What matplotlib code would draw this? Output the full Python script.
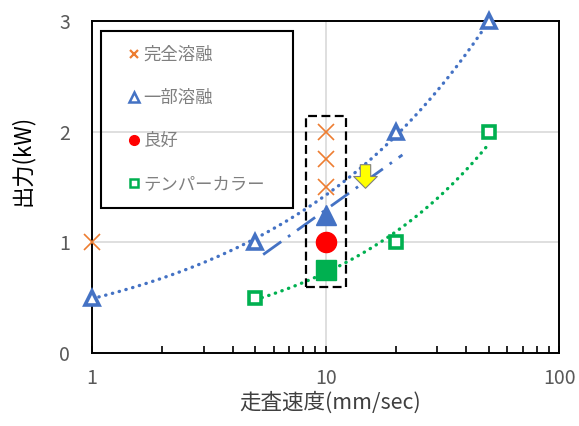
import numpy as np
import matplotlib
matplotlib.use("Agg")
import matplotlib.pyplot as plt
from matplotlib.lines import Line2D
from matplotlib.patches import Rectangle
from matplotlib.path import Path
from matplotlib.ticker import FixedLocator, FuncFormatter, NullFormatter, LogLocator

plt.rcParams['font.family'] = ['Noto Sans CJK JP', 'DejaVu Sans']

# 完全溶融
full_x = [1, 10, 10, 10]
full_y = [1.0, 1.5, 1.75, 2.0]
# 一部溶融
part_x = [1, 5, 20, 50]
part_y = [0.5, 1.0, 2.0, 3.0]
# テンパーカラー
temper_x = [5, 20, 50]
temper_y = [0.5, 1.0, 2.0]
# 10mm/sec の条件
cond_x = 10
cond_part = 1.25
cond_good = 1.0
cond_temper = 0.75
# 境界線 (一点鎖線)
bound_x = [5.4, 21.3]
bound_y = [0.89, 1.79]
# 矢印の位置
arrow_x = 14.8
arrow_y = 1.6

C_ORANGE = '#ED7D31'
C_BLUE = '#4472C4'
C_RED = '#FF0000'
C_GREEN = '#00B050'


def power_fit(xs, ys, x0, x1):
    b, a = np.polyfit(np.log(xs), np.log(ys), 1)
    xx = np.logspace(np.log10(x0), np.log10(x1), 200)
    return xx, np.exp(a) * xx ** b


fig = plt.figure(figsize=(5.79, 4.26), dpi=100)
ax = fig.add_axes([0.159, 0.171, 0.807, 0.780])
ax.set_xscale('log')
ax.set_xlim(1, 100)
ax.set_ylim(0, 3)

# 近似曲線
dot = (0, (0.1, 2.0))
xx, yy = power_fit(part_x, part_y, 1, 50)
ax.plot(xx, yy, color=C_BLUE, lw=2.4, linestyle=dot, dash_capstyle='round', zorder=2)
xx, yy = power_fit(temper_x, temper_y, 5, 50)
ax.plot(xx, yy, color=C_GREEN, lw=2.4, linestyle=dot, dash_capstyle='round', zorder=2)
ax.plot(bound_x, bound_y, color=C_BLUE, lw=2.0, linestyle=(0, (8, 3, 1, 3)), zorder=2)

# データ点
ax.plot(full_x, full_y, 'x', color=C_ORANGE, ms=12, mew=1.2, clip_on=False, zorder=4)
ax.plot(part_x, part_y, '^', color=C_BLUE, mfc='white', ms=10, mew=2.6, clip_on=False, zorder=4)
ax.plot(temper_x, temper_y, 's', color=C_GREEN, mfc='white', ms=9, mew=2.6, clip_on=False, zorder=4)
ax.plot(cond_x, cond_part, '^', color=C_BLUE, ms=15, zorder=4)
ax.plot(cond_x, cond_good, 'o', color=C_RED, ms=14.5, zorder=4)
ax.plot(cond_x, cond_temper, 's', color=C_GREEN, ms=14, zorder=4)

# 下向き矢印
arrow = Path([(-0.22, 0.5), (0.22, 0.5), (0.22, 0.0), (0.5, 0.0), (0.0, -0.5),
              (-0.5, 0.0), (-0.22, 0.0), (-0.22, 0.5)],
             [Path.MOVETO] + [Path.LINETO] * 6 + [Path.CLOSEPOLY])
ax.plot(arrow_x, arrow_y, marker=arrow, ms=17, mfc='#FFFF00', mec='#7F7F7F', mew=0.8, zorder=5)

# 10mm/sec の枠
ax.add_patch(Rectangle((8.25, 0.6), 12.2 - 8.25, 2.14 - 0.6, fill=False, ec='black',
                       lw=1.6, linestyle=(0, (4, 2)), zorder=3))

# 軸
ax.axhline(1, color='#D9D9D9', lw=1.2, zorder=0)
ax.axhline(2, color='#D9D9D9', lw=1.2, zorder=0)
ax.axvline(10, color='#D9D9D9', lw=1.2, zorder=0)
for s in ax.spines.values():
    s.set_linewidth(1.4)
    s.set_color('black')

ax.xaxis.set_major_locator(FixedLocator([1, 10, 100]))
ax.xaxis.set_major_formatter(FuncFormatter(lambda v, p: f"{v:g}"))
ax.xaxis.set_minor_locator(LogLocator(base=10, subs=np.arange(2, 10)))
ax.xaxis.set_minor_formatter(NullFormatter())
ax.set_yticks([0, 1, 2, 3])
ax.tick_params(axis='x', which='both', direction='in', length=5, width=1.2,
               pad=11, labelsize=14, labelcolor='#595959')
ax.tick_params(axis='y', which='both', length=0, pad=16, labelsize=14, labelcolor='#595959')

ax.set_xlabel('走査速度(mm/sec)', fontsize=15.5, color='#404040')
ax.xaxis.set_label_coords(0.51, -0.115)
ax.set_ylabel('出力(kW)', fontsize=16, color='black')
ax.yaxis.set_label_coords(-0.125, 0.58)

# 凡例
ax.add_patch(Rectangle((0.0193, 0.437), 0.4111, 0.533, transform=ax.transAxes, fill=False,
                       ec='black', lw=1.5, zorder=6))
handles = [
    Line2D([], [], ls='none', marker='x', color=C_ORANGE, ms=6, mew=1.6),
    Line2D([], [], ls='none', marker='^', color=C_BLUE, mfc='white', ms=6.5, mew=1.8),
    Line2D([], [], ls='none', marker='o', color=C_RED, ms=7),
    Line2D([], [], ls='none', marker='s', color=C_GREEN, mfc='white', ms=5.5, mew=1.8),
]
labels = ['完全溶融', '一部溶融', '良好', 'テンパーカラー']
leg = ax.legend(handles, labels, loc='upper left', bbox_to_anchor=(0.078, 0.925),
                frameon=False, fontsize=12.5, handlelength=0.6, handletextpad=0.25,
                borderpad=0, borderaxespad=0, labelspacing=1.45)
for t in leg.get_texts():
    t.set_color('#7F7F7F')

fig.savefig('out.png', dpi=100)
